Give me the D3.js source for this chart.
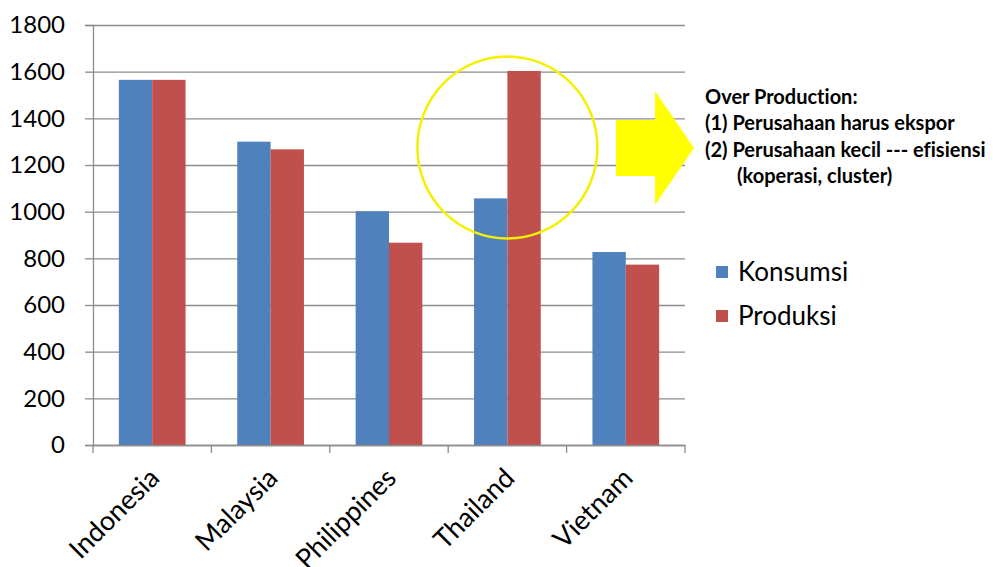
<!DOCTYPE html>
<html>
<head>
<meta charset="utf-8">
<script src="https://cdn.jsdelivr.net/npm/d3@7"></script>
<style>
  body { margin: 0; background: #fff; }
  text { font-family: Lato, "Open Sans", sans-serif; font-variant-ligatures: none; }
</style>
</head>
<body>
<div id="chart"></div>
<script>
const countries = ["Indonesia", "Malaysia", "Philippines", "Thailand", "Vietnam"];
const konsumsi = [1565, 1300, 1002, 1057, 827];
const produksi = [1565, 1267, 867, 1603, 773];
const seriesNames = ["Konsumsi", "Produksi"];
const yTicks = [0, 200, 400, 600, 800, 1000, 1200, 1400, 1600, 1800];
const noteLines = ["Over Production:", "(1) Perusahaan harus ekspor", "(2) Perusahaan kecil --- efisiensi", "(koperasi, cluster)"];

const W = 997, H = 567;
const margin = { top: 25, right: 312, bottom: 122, left: 93 };
const width = W - margin.left - margin.right,
      height = H - margin.top - margin.bottom;
const colors = ["#4f81bd", "#c0504d"];

const svg = d3.select("#chart")
    .append("svg")
    .attr("width", W)
    .attr("height", H);

const g = svg.append("g")
    .attr("transform", `translate(${margin.left},${margin.top})`);

const x = d3.scaleBand()
    .domain(countries)
    .range([0, width]);

const y = d3.scaleLinear()
    .domain([0, 1800])
    .range([height, 0]);

// bar width like excel gap 150%
const barW = x.bandwidth() / 3.55;
const x1 = d3.scaleBand()
    .domain(seriesNames)
    .range([(x.bandwidth() - 2 * barW) / 2, (x.bandwidth() + 2 * barW) / 2]);

// gridlines
g.append("g")
    .call(d3.axisLeft(y).tickValues(yTicks).tickSize(-width).tickFormat(""))
    .call(s => s.select(".domain").remove())
    .selectAll("line")
    .attr("stroke", "#8c8c8c")
    .attr("stroke-width", 1.3);

// y axis
const yAxis = g.append("g")
    .call(d3.axisLeft(y).tickValues(yTicks).tickSize(8).tickPadding(20).tickFormat(d3.format("d")));
yAxis.select(".domain").attr("stroke", "#8c8c8c").attr("stroke-width", 1.3);
yAxis.selectAll("line").attr("stroke", "#8c8c8c").attr("stroke-width", 1.3);
yAxis.selectAll("text")
    .style("font-size", "24px")
    .attr("fill", "#000");

// bars
const data = countries.map((c, i) => ({ country: c, values: [konsumsi[i], produksi[i]] }));
const groups = g.selectAll(".grp")
    .data(data)
    .enter()
    .append("g")
    .attr("transform", d => `translate(${x(d.country)},0)`);

groups.selectAll("rect")
    .data(d => d.values.map((v, i) => ({ key: seriesNames[i], value: v, i: i })))
    .enter()
    .append("rect")
    .attr("x", d => x1(d.key))
    .attr("y", d => y(d.value))
    .attr("width", x1.bandwidth())
    .attr("height", d => height - y(d.value))
    .attr("fill", d => colors[d.i]);

// x axis
const xAxis = g.append("g")
    .attr("transform", `translate(0,${height})`)
    .call(d3.axisBottom(x).tickSize(0).tickFormat(""));
xAxis.select(".domain").attr("stroke", "#8c8c8c").attr("stroke-width", 1.3);

// category boundary ticks
g.append("g")
    .selectAll("line")
    .data(countries.concat(["_end"]))
    .enter()
    .append("line")
    .attr("x1", (d, i) => i * x.step())
    .attr("x2", (d, i) => i * x.step())
    .attr("y1", height)
    .attr("y2", height + 8)
    .attr("stroke", "#8c8c8c")
    .attr("stroke-width", 1.3);

g.append("g")
    .selectAll("text")
    .data(countries)
    .enter()
    .append("text")
    .attr("text-anchor", "end")
    .attr("transform", d => `translate(${x(d) + x.bandwidth() / 2 + 2},${height + 28}) rotate(-45)`)
    .attr("dy", "0.35em")
    .style("font-size", "27px")
    .attr("fill", "#000")
    .text(d => d);

// highlight circle around Thailand
g.append("ellipse")
    .attr("cx", x("Thailand") + x.bandwidth() / 2)
    .attr("cy", y(1275))
    .attr("rx", 90)
    .attr("ry", 91)
    .attr("fill", "none")
    .attr("stroke", "#f5f000")
    .attr("stroke-width", 2.5);

// block arrow
const ax = 616, ay = 148;
svg.append("path")
    .attr("d", `M${ax},${ay - 28} L${ax + 39},${ay - 28} L${ax + 39},${ay - 57} L${ax + 78},${ay} L${ax + 39},${ay + 57} L${ax + 39},${ay + 28} L${ax},${ay + 28} Z`)
    .attr("fill", "#ffff00");

// note text
svg.append("g")
    .selectAll("text")
    .data(noteLines)
    .enter()
    .append("text")
    .attr("x", (d, i) => i === 3 ? 737 : 705)
    .attr("y", (d, i) => 97 + i * 26.3)
    .attr("dy", "0.35em")
    .style("font-size", "20px")
    .style("font-weight", "bold")
    .attr("fill", "#000")
    .text(d => d);

// legend
const legend = svg.append("g")
    .selectAll("g")
    .data(seriesNames)
    .enter()
    .append("g")
    .attr("transform", (d, i) => `translate(716,${272 + i * 44})`);

legend.append("rect")
    .attr("x", 0)
    .attr("y", -6)
    .attr("width", 12)
    .attr("height", 12)
    .attr("fill", (d, i) => colors[i]);

legend.append("text")
    .attr("x", 22)
    .attr("dy", "0.35em")
    .style("font-size", "26px")
    .attr("fill", "#000")
    .text(d => d);
</script>
</body>
</html>
